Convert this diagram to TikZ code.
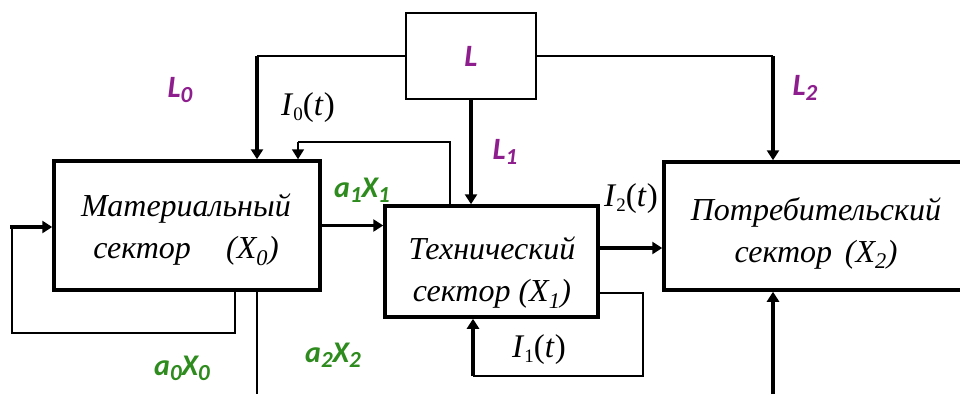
\documentclass[tikz,border=0pt]{standalone}
\usepackage{fontspec}
\setmainfont{Liberation Serif}
\newfontfamily\lblfont{Carlito}
\usetikzlibrary{arrows.meta}
\definecolor{lpurple}{HTML}{8E1E8E}
\definecolor{lgreen}{HTML}{2E8B1E}
\newcommand{\lsub}[1]{\raisebox{-0.35ex}{\fontsize{23}{23}\selectfont #1}}
\newcommand{\isub}[1]{\raisebox{-0.3ex}{\fontsize{19}{19}\selectfont\upshape #1}}
\begin{document}
\begin{tikzpicture}[x=1pt,y=-1pt,
  sector/.style={draw,line width=3.5pt,inner sep=0pt},
  lbox/.style={draw,line width=1.8pt,inner sep=0pt,minimum width=130pt,minimum height=86pt},
  boxtext/.style={font=\fontsize{32}{42}\selectfont\itshape,align=center},
  lbl/.style={font=\fontsize{31}{31}\selectfont\lblfont\bfseries\itshape,text=lpurple},
  abl/.style={font=\fontsize{30}{30}\selectfont\lblfont\bfseries\itshape,text=lgreen},
  itl/.style={font=\fontsize{33}{33}\selectfont},
  wire/.style={line width=1.8pt},
  flow/.style={line width=3.5pt,-{Triangle[width=12pt,length=10pt]}},
  wireflow/.style={line width=1.8pt,-{Triangle[width=12pt,length=10pt]}}]
\useasboundingbox (0,0) rectangle (960,394);
\clip (0,0) rectangle (960,394);
% Bloki
\node[lbox,lbl] (Lb) at (471,56) {L};
\node[sector,minimum width=266pt,minimum height=129pt] (mat) at (187,225.5) {};
\node[sector,minimum width=213pt,minimum height=111pt] (tech) at (491.5,261.5) {};
\node[sector,minimum width=330pt,minimum height=128pt] (cons) at (829,226) {};
\node[boxtext] (matT) at (186,230) {Материальный\\сектор\hspace{1.1em}(X\textsubscript{0})};
\node[boxtext] (techT) at (492,273) {Технический\\сектор (X\textsubscript{1})};
\node[boxtext] (consT) at (816,233) {Потребительский\\сектор\hspace{0.4em}(X\textsubscript{2})};
% Tochki
\coordinate (l0) at (257,56);
\coordinate (l2) at (773,56);
\coordinate (i0a) at (450,142);
\coordinate (i0b) at (298,142);
\coordinate (i1a) at (643,293);
\coordinate (i1b) at (643,376);
\coordinate (i1c) at (473,376);
\coordinate (t2) at (0,248);
\coordinate (in) at (10,227);
\coordinate (fb) at (235,333);
\coordinate (fc) at (12,333);
\coordinate (a2) at (257,394);
\coordinate (c2) at (773,394);
% Svyazi
\draw[wire] (Lb.west) -- (l0);
\draw[flow] (l0) -- (l0 |- mat.north);
\draw[wire] (Lb.east) -- (l2);
\draw[flow] (l2) -- (l2 |- cons.north);
\draw[flow] (Lb.south) -- (Lb.south |- tech.north);
\draw[wire] (i0a |- tech.north) -- (i0a) -- (i0b);
\draw[wireflow] (i0b) -- (i0b |- mat.north);
\draw[flow] (mat.east) -- (mat.east -| tech.west);
\draw[flow] (t2 -| tech.east) -- (t2 -| cons.west);
\draw[wire] (i1a -| tech.east) -- (i1a) -- (i1b) -- (i1c);
\draw[flow] (i1c) -- (i1c |- tech.south);
\draw[flow] (in) -- (in -| mat.west);
\draw[wire] (fb |- mat.south) -- (fb) -- (fc) -- (in -| fc);
\draw[wire] (a2 |- mat.south) -- (a2);
\draw[flow] (c2) -- (c2 |- cons.south);
% Podpisi
\node[lbl] (L0) at (180,90) {L\lsub{0}};
\node[lbl] (L1) at (505,152) {L\lsub{1}};
\node[lbl] (L2) at (805,88) {L\lsub{2}};
\node[abl] (a1) at (362,190) {a\lsub{1}X\lsub{1}};
\node[abl] (a0) at (182,368) {a\lsub{0}X\lsub{0}};
\node[abl] (a2t) at (333,355) {a\lsub{2}X\lsub{2}};
\node[itl] (I0) at (308,108) {\textit{I}\isub{0}(\textit{t})};
\node[itl] (I1) at (539,350) {\textit{I}\isub{1}(\textit{t})};
\node[itl] (I2) at (631,199) {\textit{I}\isub{2}(\textit{t})};
\end{tikzpicture}
\end{document}
